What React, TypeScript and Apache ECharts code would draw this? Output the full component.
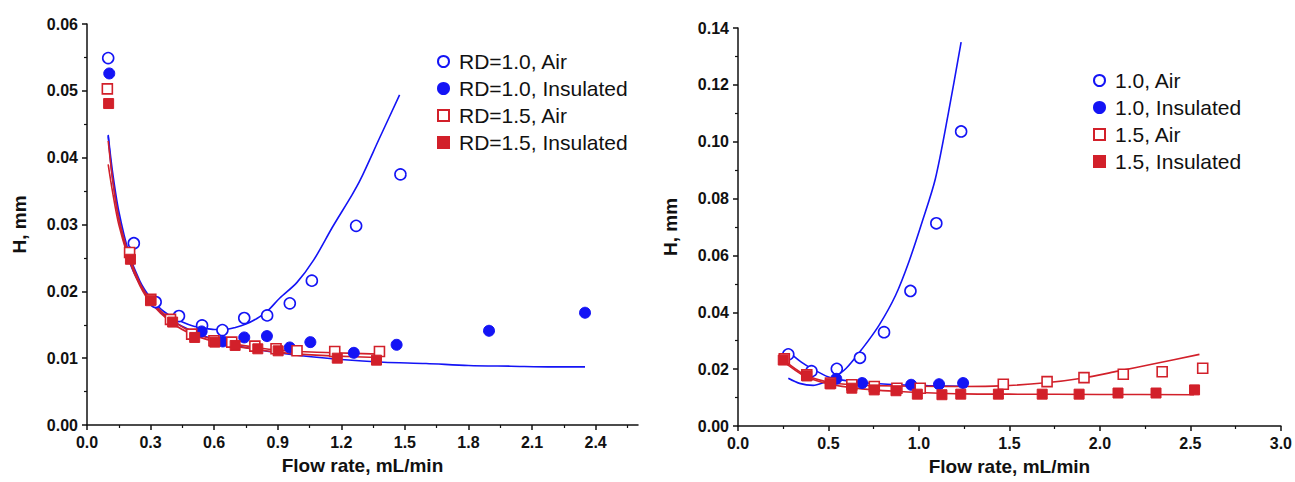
import React, { useEffect, useRef } from "react";
import * as echarts from "echarts";

// ---------- Left panel (RD comparison) ----------
const leftXTicks = [0, 0.3, 0.6, 0.9, 1.2, 1.5, 1.8, 2.1, 2.4];
const rd10AirL: number[][] = [
  [0.1, 0.0549], [0.221, 0.0272], [0.324, 0.0184], [0.434, 0.0163], [0.543, 0.0149],
  [0.639, 0.0142], [0.742, 0.016], [0.85, 0.0164], [0.957, 0.0182], [1.061, 0.0216],
  [1.27, 0.0298], [1.479, 0.0375],
];
const rd10InsL: number[][] = [
  [0.105, 0.0526], [0.541, 0.014], [0.641, 0.0125], [0.742, 0.0131], [0.849, 0.0133],
  [0.957, 0.0116], [1.054, 0.0124], [1.259, 0.0108], [1.461, 0.012], [1.897, 0.0141],
  [2.35, 0.0168],
];
const rd15AirL: number[][] = [
  [0.096, 0.0503], [0.201, 0.0258], [0.301, 0.0188], [0.394, 0.0158], [0.494, 0.0136],
  [0.599, 0.0126], [0.683, 0.0124], [0.792, 0.0118], [0.892, 0.0114], [0.991, 0.0111],
  [1.169, 0.011], [1.38, 0.011],
];
const rd15InsL: number[][] = [
  [0.102, 0.0481], [0.205, 0.0248], [0.3, 0.0186], [0.404, 0.0154], [0.508, 0.0131],
  [0.603, 0.0124], [0.699, 0.0119], [0.806, 0.0114], [0.902, 0.0111], [1.181, 0.01],
  [1.366, 0.0097],
];
const fitBlueAirL: number[][] = [
  [0.1, 0.0434], [0.12, 0.038], [0.15, 0.032], [0.2, 0.0255], [0.25, 0.0215], [0.3, 0.019],
  [0.35, 0.0173], [0.4, 0.0162], [0.45, 0.0154], [0.5, 0.0148], [0.55, 0.0145], [0.6, 0.0143],
  [0.65, 0.0143], [0.7, 0.0146], [0.75, 0.0151], [0.8, 0.0159], [0.85, 0.017], [0.91, 0.019],
  [0.99, 0.0213], [1.07, 0.0247], [1.16, 0.0297], [1.25, 0.0344], [1.29, 0.0367],
  [1.38, 0.0429], [1.475, 0.0494],
];
const fitBlueInsL: number[][] = [
  [0.1, 0.0432], [0.12, 0.037], [0.15, 0.031], [0.2, 0.0245], [0.25, 0.021], [0.3, 0.0186],
  [0.35, 0.0168], [0.4, 0.0156], [0.5, 0.014], [0.6, 0.0128], [0.7, 0.0119], [0.8, 0.0113],
  [0.9, 0.0108], [1.0, 0.0104], [1.2, 0.0098], [1.4, 0.0094], [1.6, 0.0092], [1.8, 0.0089],
  [2.0, 0.0088], [2.2, 0.0087], [2.35, 0.0087],
];
const fitRedAirL: number[][] = [
  [0.1, 0.0425], [0.12, 0.037], [0.15, 0.031], [0.2, 0.0252], [0.25, 0.0212], [0.3, 0.0187],
  [0.35, 0.017], [0.4, 0.0157], [0.5, 0.0138], [0.6, 0.0128], [0.7, 0.0121], [0.8, 0.0116],
  [0.9, 0.0112], [1.0, 0.011], [1.17, 0.0108], [1.38, 0.0106],
];
const fitRedInsL: number[][] = [
  [0.1, 0.039], [0.12, 0.035], [0.15, 0.03], [0.2, 0.0246], [0.25, 0.0208], [0.3, 0.0183],
  [0.4, 0.0153], [0.5, 0.0135], [0.6, 0.0125], [0.7, 0.0118], [0.8, 0.0113], [0.9, 0.0109],
  [1.0, 0.0106], [1.18, 0.0103], [1.37, 0.0101],
];

// ---------- Right panel ----------
const rightXTicks = [0, 0.5, 1.0, 1.5, 2.0, 2.5, 3.0];
const a10AirR: number[][] = [
  [0.278, 0.0252], [0.406, 0.0193], [0.546, 0.0201], [0.674, 0.024], [0.807, 0.033],
  [0.953, 0.0475], [1.096, 0.0713], [1.233, 0.1036],
];
const a10InsR: number[][] = [
  [0.543, 0.0166], [0.686, 0.0151], [0.957, 0.0145], [1.111, 0.0147], [1.244, 0.0151],
];
const a15AirR: number[][] = [
  [0.256, 0.0236], [0.38, 0.018], [0.511, 0.0151], [0.629, 0.0145], [0.753, 0.0139],
  [0.878, 0.0133], [1.007, 0.0133], [1.466, 0.0147], [1.708, 0.0156], [1.912, 0.017],
  [2.129, 0.0182], [2.344, 0.0191], [2.568, 0.0203],
];
const a15InsR: number[][] = [
  [0.25, 0.0232], [0.38, 0.0176], [0.51, 0.0148], [0.629, 0.0133], [0.753, 0.0127],
  [0.873, 0.0124], [0.991, 0.0112], [1.127, 0.011], [1.231, 0.0112], [1.439, 0.0112],
  [1.681, 0.0112], [1.885, 0.0112], [2.1, 0.0116], [2.31, 0.0116], [2.523, 0.0127],
];
const fitBlueAirR: number[][] = [
  [0.278, 0.0168], [0.34, 0.015], [0.415, 0.0143], [0.47, 0.0152], [0.525, 0.0168],
  [0.598, 0.0203], [0.688, 0.0273], [0.78, 0.0355], [0.871, 0.046], [0.944, 0.0577],
  [1.017, 0.0717], [1.09, 0.0868], [1.163, 0.1102], [1.233, 0.135],
];
const fitBlueInsR: number[][] = [
  [0.278, 0.0262], [0.35, 0.0225], [0.414, 0.02], [0.5, 0.0172], [0.55, 0.0164],
  [0.7, 0.0152], [0.85, 0.0146], [1.0, 0.0143], [1.1, 0.0141], [1.25, 0.014],
];
const fitRedAirR: number[][] = [
  [0.241, 0.0238], [0.37, 0.018], [0.506, 0.0153], [0.63, 0.0145], [0.75, 0.0142],
  [1.0, 0.014], [1.25, 0.0139], [1.45, 0.0141], [1.7, 0.0152], [1.9, 0.0168],
  [2.1, 0.0193], [2.3, 0.0219], [2.55, 0.0252],
];
const fitRedInsR: number[][] = [
  [0.241, 0.0232], [0.37, 0.0175], [0.5, 0.0148], [0.63, 0.0135], [0.75, 0.0127],
  [0.87, 0.0122], [1.0, 0.0118], [1.25, 0.0113], [1.5, 0.0112], [2.0, 0.0111], [2.52, 0.011],
];

const leftNames = ["RD=1.0, Air", "RD=1.0, Insulated", "RD=1.5, Air", "RD=1.5, Insulated"];
const rightNames = ["1.0, Air", "1.0, Insulated", "1.5, Air", "1.5, Insulated"];

const BLUE = "#1414f5";
const RED = "#d2202a";
const FONT = "'Liberation Sans', Arial, Helvetica, sans-serif";

function scatter(name: string, data: number[][], idx: number, shape: string, filled: boolean, color: string) {
  return {
    name,
    type: "scatter",
    xAxisIndex: idx,
    yAxisIndex: idx,
    data,
    symbol: shape,
    symbolSize: shape === "circle" ? 11 : 10,
    itemStyle: filled
      ? { color, borderColor: color, borderWidth: 1, opacity: 1 }
      : { color: "#ffffff", borderColor: color, borderWidth: 1.6, opacity: 1 },
    z: 3,
  };
}

function fit(name: string, data: number[][], idx: number, color: string) {
  return {
    name,
    type: "line",
    xAxisIndex: idx,
    yAxisIndex: idx,
    data,
    smooth: 0.3,
    showSymbol: false,
    symbol: "none",
    lineStyle: { color, width: 1.6 },
    z: 2,
  };
}

function xAxis(idx: number, max: number, interval: number, ticks: number[]) {
  return {
    type: "value",
    gridIndex: idx,
    min: 0,
    max,
    interval,
    name: "Flow rate, mL/min",
    nameLocation: "middle",
    nameGap: 31,
    nameTextStyle: { fontFamily: FONT, fontSize: 19, fontWeight: "bold", color: "#111" },
    axisLine: { show: true, onZero: false, lineStyle: { color: "#111", width: 1.5 } },
    axisTick: { show: true, inside: false, length: 5, customValues: ticks, lineStyle: { color: "#111", width: 1.5 } },
    minorTick: { show: true, splitNumber: 2, length: 3, lineStyle: { color: "#111", width: 1.2 } },
    axisLabel: {
      fontFamily: FONT,
      fontSize: 16,
      fontWeight: "bold",
      color: "#111",
      margin: 9,
      showMaxLabel: max === 3,
      formatter: (v: number) => v.toFixed(1),
    },
    splitLine: { show: false },
  };
}

function yAxis(idx: number, max: number, interval: number) {
  return {
    type: "value",
    gridIndex: idx,
    min: 0,
    max,
    interval,
    name: "H, mm",
    nameLocation: "middle",
    nameGap: 58,
    nameTextStyle: { fontFamily: FONT, fontSize: 19, fontWeight: "bold", color: "#111" },
    axisLine: { show: true, onZero: false, lineStyle: { color: "#111", width: 1.5 } },
    axisTick: { show: true, inside: false, length: 5, lineStyle: { color: "#111", width: 1.5 } },
    minorTick: { show: true, splitNumber: 2, length: 3, lineStyle: { color: "#111", width: 1.2 } },
    axisLabel: {
      fontFamily: FONT,
      fontSize: 16,
      fontWeight: "bold",
      color: "#111",
      margin: 9,
      formatter: (v: number) => v.toFixed(2),
    },
    splitLine: { show: false },
  };
}

function legend(names: string[], left: number, top: number) {
  return {
    show: true,
    orient: "vertical",
    left,
    top,
    padding: 0,
    itemGap: 6,
    itemWidth: 11,
    itemHeight: 11,
    data: names,
    selectedMode: false,
    textStyle: { fontFamily: FONT, fontSize: 21, color: "#111", lineHeight: 21, padding: [0, 0, 0, 5] },
  };
}

export default function App() {
  const ref = useRef<HTMLDivElement>(null);
  useEffect(() => {
    if (!ref.current) return;
    const chart = echarts.init(ref.current, undefined, { renderer: "svg" });
    chart.setOption({
      animation: false,
      backgroundColor: "#ffffff",
      grid: [
        { left: 87, top: 24, width: 551, height: 401, containLabel: false },
        { left: 738, top: 28, width: 547, height: 398, containLabel: false },
      ],
      xAxis: [xAxis(0, 2.6, 0.3, leftXTicks), xAxis(1, 3, 0.5, rightXTicks)],
      yAxis: [yAxis(0, 0.06, 0.01), yAxis(1, 0.14, 0.02)],
      legend: [legend(leftNames, 437, 51), legend(rightNames, 1093, 70)],
      series: [
        fit("fit L1", fitBlueAirL, 0, BLUE),
        fit("fit L2", fitBlueInsL, 0, BLUE),
        fit("fit L3", fitRedAirL, 0, RED),
        fit("fit L4", fitRedInsL, 0, RED),
        scatter(leftNames[0], rd10AirL, 0, "circle", false, BLUE),
        scatter(leftNames[1], rd10InsL, 0, "circle", true, BLUE),
        scatter(leftNames[2], rd15AirL, 0, "rect", false, RED),
        scatter(leftNames[3], rd15InsL, 0, "rect", true, RED),
        fit("fit R1", fitBlueAirR, 1, BLUE),
        fit("fit R2", fitBlueInsR, 1, BLUE),
        fit("fit R3", fitRedAirR, 1, RED),
        fit("fit R4", fitRedInsR, 1, RED),
        scatter(rightNames[0], a10AirR, 1, "circle", false, BLUE),
        scatter(rightNames[1], a10InsR, 1, "circle", true, BLUE),
        scatter(rightNames[2], a15AirR, 1, "rect", false, RED),
        scatter(rightNames[3], a15InsR, 1, "rect", true, RED),
      ],
    });
    return () => chart.dispose();
  }, []);
  return (
    <div
      ref={ref}
      style={{ position: "absolute", left: 0, top: 0, width: 1295, height: 482, background: "#fff" }}
    />
  );
}
